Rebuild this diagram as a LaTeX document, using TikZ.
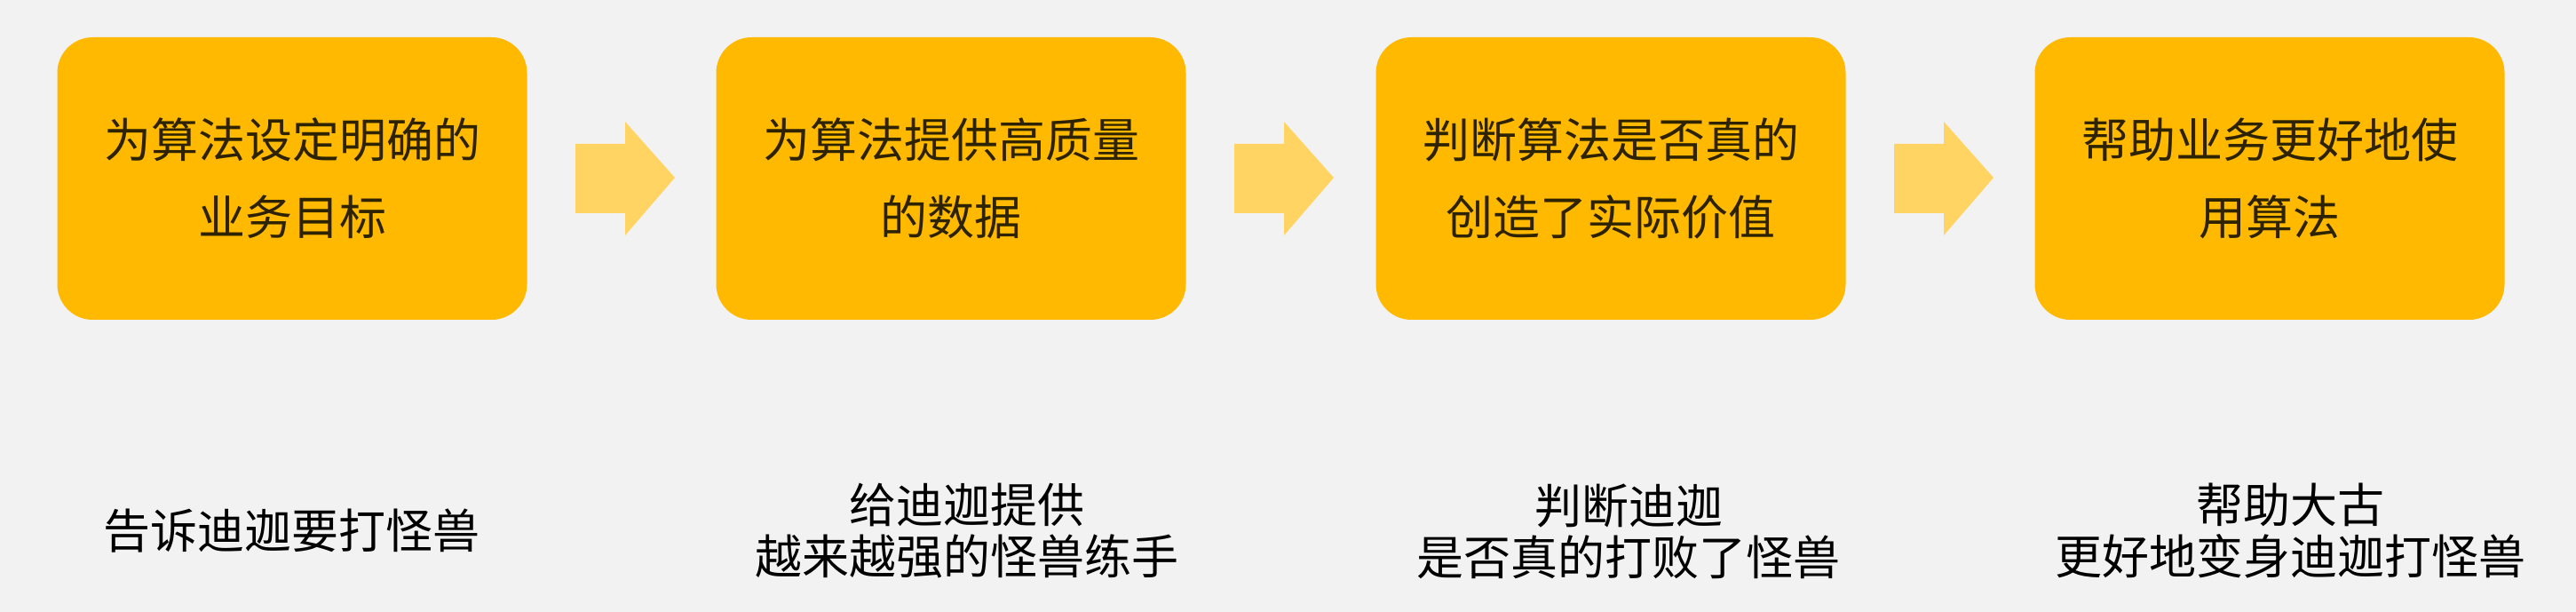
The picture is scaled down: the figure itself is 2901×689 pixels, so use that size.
\documentclass[tikz,border=0pt]{standalone}
\usepackage{fontspec}
\newfontfamily\cjk{Noto Sans CJK SC}
\usepackage{tikz}

\definecolor{pagegray}{HTML}{F2F2F2}
\definecolor{stepamber}{HTML}{FFB900}
\definecolor{arrowamber}{HTML}{FFD462}
\definecolor{steptext}{HTML}{2E2300}

\tikzset{
  stepbox/.style={fill=stepamber, rounded corners=20pt, minimum width=264.5pt, minimum height=159pt,
    align=center, text=steptext, font=\cjk\fontsize{26.5pt}{43.5pt}\selectfont},
  monsternote/.style={align=center, text=black, inner sep=0pt, font=\cjk\fontsize{26.5pt}{29pt}\selectfont},
  flowarrow/.style={fill=arrowamber}
}

\begin{document}
\begin{tikzpicture}[x=0.5pt,y=0.5pt,yscale=-1,xscale=1]
% Background
\fill[pagegray] (0,0) rectangle (2901,689);
\useasboundingbox (0,0) rectangle (2901,689);

% Step Node
\node (goal) at (329,201) [stepbox] {为算法设定明确的\\业务目标};
% Step Node
\node (data) at (1071,201) [stepbox] {为算法提供高质量\\的数据};
% Step Node
\node (judge) at (1814,201) [stepbox] {判断算法是否真的\\创造了实际价值};
% Step Node
\node (help) at (2556,201) [stepbox] {帮助业务更好地使\\用算法};

% Block Arrow
\fill[flowarrow] (648,162) -- (704,162) -- (704,137) -- (760,200) -- (704,265) -- (704,240) -- (648,240) -- cycle;
% Block Arrow
\fill[flowarrow] (1390,162) -- (1446,162) -- (1446,137) -- (1502,200) -- (1446,265) -- (1446,240) -- (1390,240) -- cycle;
% Block Arrow
\fill[flowarrow] (2133,162) -- (2189,162) -- (2189,137) -- (2245,200) -- (2189,265) -- (2189,240) -- (2133,240) -- cycle;

% Text Node
\node (goalnote) at (328,598) [monsternote] {告诉迪迦要打怪兽};
% Text Node
\node (datanote) at (1089,598) [monsternote] {给迪迦提供\\越来越强的怪兽练手};
% Text Node
\node (judgenote) at (1834,598) [monsternote] {判断迪迦\\是否真的打败了怪兽};
% Text Node
\node (helpnote) at (2579,598) [monsternote] {帮助大古\\更好地变身迪迦打怪兽};

\end{tikzpicture}
\end{document}
